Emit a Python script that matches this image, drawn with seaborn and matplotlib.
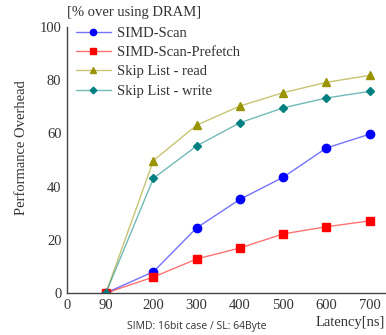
import matplotlib
matplotlib.use("Agg")
import matplotlib.pyplot as plt
from matplotlib.lines import Line2D
from matplotlib.colors import to_rgba
import seaborn as sns
import pandas as pd

# values
latency = [90, 200, 300, 400, 500, 600, 700]
simd_scan = [0, 8, 24.5, 35.2, 43.5, 54.5, 59.7]
simd_prefetch = [0, 6, 12.8, 16.9, 22.2, 24.9, 27.1]
skip_read = [0, 49.8, 63.1, 70.3, 75.3, 79.2, 81.8]
skip_write = [0, 43.1, 55.3, 64.0, 69.6, 73.3, 75.8]

series = ["SIMD-Scan", "SIMD-Scan-Prefetch", "Skip List - read", "Skip List - write"]
colors = ["#0000ff", "#ff0000", "#9a9400", "#008080"]
markers = ["o", "s", "^", "D"]
msizes = [6, 5.5, 6, 4.5]

df = pd.DataFrame({"latency": latency * 4,
                   "value": simd_scan + simd_prefetch + skip_read + skip_write,
                   "series": [s for s in series for _ in latency]})

sns.set_style("white")
plt.rcParams["font.family"] = ["Liberation Serif", "DejaVu Serif"]

fig = plt.figure(figsize=(3.86, 3.35), dpi=100)
ax = fig.add_axes([0.1736, 0.1254, 0.8264, 0.794])

handles = []
for name, c, m, ms in zip(series, colors, markers, msizes):
    sub = df[df["series"] == name]
    sns.lineplot(data=sub, x="latency", y="value", ax=ax, color=c, alpha=0.55,
                 linewidth=1.0, legend=False)
    ax.plot(sub["latency"], sub["value"], linestyle="none", marker=m,
            markersize=ms, color=c)
    handles.append(Line2D([], [], color=to_rgba(c, 0.55), linewidth=1.0,
                          marker=m, markersize=ms * 0.75,
                          markerfacecolor=c, markeredgecolor=c, label=name))

ax.set_xlim(0, 738)
ax.set_ylim(0, 100)
ax.set_xticks([0, 90, 200, 300, 400, 500, 600, 700])
ax.set_yticks([0, 20, 40, 60, 80, 100])
ax.set_xlabel("")
ax.set_ylabel("")
for s in ["top", "right"]:
    ax.spines[s].set_visible(False)
for s in ["left", "bottom"]:
    ax.spines[s].set_color("#444444")
    ax.spines[s].set_linewidth(1.0)
ax.tick_params(direction="in", length=4, color="#aaaaaa", labelsize=10.5,
               labelcolor="#333333", pad=4)

leg = ax.legend(handles=handles, loc="upper left", frameon=False, fontsize=10.5,
                handlelength=2.4, handletextpad=0.4, labelspacing=0.42,
                borderaxespad=0.2, bbox_to_anchor=(0.0, 1.035))
for t in leg.get_texts():
    t.set_color("#333333")

fig.text(0.348, 0.962, "[% over using DRAM]", ha="center", va="center",
         fontsize=10.5, color="#333333")
fig.text(0.055, 0.56, "Performance Overhead", rotation=90, ha="center",
         va="center", fontsize=10.5, color="#333333")
fig.text(0.997, 0.038, "Latency[ns]", ha="right", va="center",
         fontsize=10.5, color="#333333")
fig.text(0.51, 0.024, "SIMD: 16bit case / SL: 64Byte", ha="center",
         va="center", fontsize=7.5, color="#333333", family="Open Sans")

fig.savefig("out.png", dpi=100)
